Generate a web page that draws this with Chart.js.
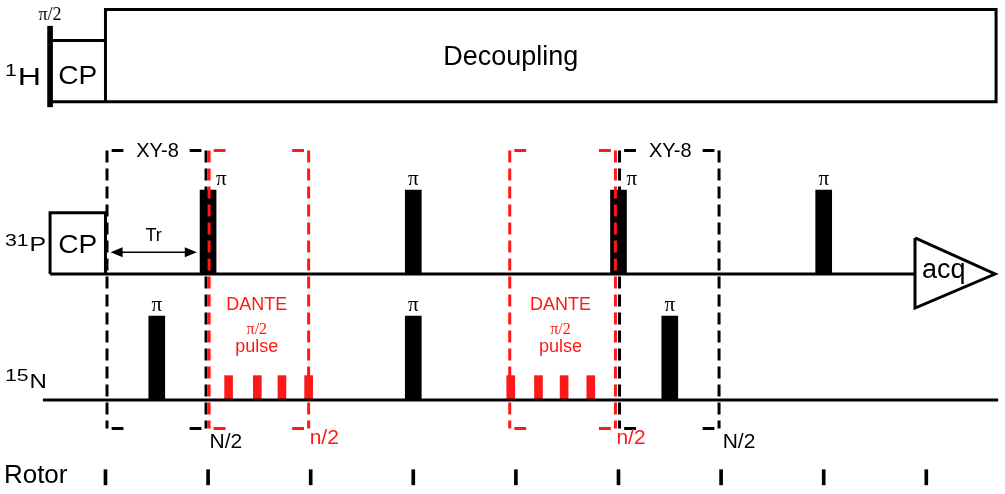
<!DOCTYPE html>
<html>
<head>
<meta charset="utf-8">
<title>Pulse sequence</title>
<script src="https://cdn.jsdelivr.net/npm/chart.js@4.4.1/dist/chart.umd.min.js"></script>
<style>
    html, body { margin: 0; padding: 0; background: #fff; }
    #wrap { width: 1005px; height: 494px; }
</style>
</head>
<body>
<div id="wrap"><canvas id="myChart" width="1005" height="494"></canvas></div>
<script>
// time axis is in rotor periods, vertical axis in pulse amplitude units
var rotorTicks = [0, 1, 2, 3, 4, 5, 6, 7, 8];
var channels = ['1H', '31P', '15N'];
var channelLevels = [3.55, 1.5, 0];
var pPiPulses = [1, 3, 5, 7];
var nPiPulses = [0.5, 3, 5.5];
var danteTrain1 = [1.2, 1.48, 1.72, 1.98];
var danteTrain2 = [3.95, 4.22, 4.47, 4.73];
var xy8Blocks = [[0.015, 0.98], [5.01, 5.98]];
var danteBlocks = [[1.01, 1.98], [3.94, 4.97]];
var trSpan = [0.05, 0.89];

var piAmp = 1;
var danteAmp = 0.29;
var cpAmp = 0.73;
var decouplingAmp = 1.1;
var hPulseAmp = 0.9;
var cpStart = -0.54;
var seqEnd = 8.68;
var acqSpan = [7.89, 8.67];
var blockTop = 2.97, blockBottom = -0.34;
var rotorTickRange = [-1.01, -0.83];

var RED = 'rgb(255,24,24)';
var SANS = '"Liberation Sans", Arial, sans-serif';
var SERIF = '"Liberation Serif", "Times New Roman", serif';

var H = channelLevels[0], P = channelLevels[1], N = channelLevels[2];

function gap(list) {
    // join several polylines into one dataset, broken by null points
    var out = [];
    list.forEach(function (pts, i) {
        if (i > 0) out.push({ x: pts[0].x, y: null });
        out = out.concat(pts);
    });
    return out;
}

function pulseBars(times, base, amp) {
    return times.map(function (t) { return { x: t, y: [base, base + amp] }; });
}

function lineSet(data, color, width, dash, order) {
    return {
        type: 'line', data: data, borderColor: color, borderWidth: width,
        borderDash: dash || [], pointRadius: 0, tension: 0, fill: false,
        spanGaps: false, borderCapStyle: 'butt', borderJoinStyle: 'miter', order: order
    };
}

function barSet(data, color, thickness) {
    return {
        type: 'bar', data: data, backgroundColor: color, borderWidth: 0,
        barThickness: thickness, grouped: false, order: 5
    };
}

function blockLines(blocks) {
    var verticals = [], ticks = [];
    blocks.forEach(function (b) {
        verticals.push([{ x: b[0], y: blockTop }, { x: b[0], y: blockBottom }]);
        verticals.push([{ x: b[1], y: blockTop }, { x: b[1], y: blockBottom }]);
        [blockTop, blockBottom].forEach(function (v) {
            ticks.push([{ x: b[0] + 0.045, y: v }, { x: b[0] + 0.16, y: v }]);
            ticks.push([{ x: b[1] - 0.16, y: v }, { x: b[1] - 0.045, y: v }]);
        });
    });
    return { verticals: gap(verticals), ticks: gap(ticks) };
}

var xyLines = blockLines(xy8Blocks);
var danteLines = blockLines(danteBlocks);

// text annotations, anchored in data units
var labels = [
    { text: 'π/2', x: cpStart, y: 4.58, font: '18px ' + SERIF },
    { text: 'Decoupling', x: 3.95, y: 4.08, font: '27px ' + SANS },
    { text: 'CP', x: cpStart / 2, y: H + 0.3, font: '26px ' + SANS, sx: 1.08 },
    { text: 'CP', x: cpStart / 2, y: P + 0.33, font: '26px ' + SANS, sx: 1.08 },
    { text: 'Tr', x: 0.47, y: 1.95, font: '18px ' + SANS },
    { text: 'acq', x: 8.17, y: 1.45, font: '27px ' + SANS, base: 'alphabetic' },
    { text: 'Rotor', x: -0.99, y: -0.99, font: '26px ' + SANS, align: 'left', base: 'alphabetic' }
];
xy8Blocks.forEach(function (b) {
    labels.push({ text: 'XY-8', x: (b[0] + b[1]) / 2 + 0.01, y: 2.96, font: '20px ' + SANS });
    labels.push({ text: 'N/2', x: b[1] + 0.035, y: -0.5, font: '21px ' + SANS, align: 'left' });
});
danteBlocks.forEach(function (b) {
    var mid = (b[0] + b[1]) / 2 - 0.02;
    labels.push({ text: 'DANTE', x: mid, y: 1.13, font: '18px ' + SANS, color: RED });
    labels.push({ text: 'π/2', x: mid, y: 0.83, font: '16px ' + SERIF, color: RED });
    labels.push({ text: 'pulse', x: mid, y: 0.57, font: '18px ' + SANS, color: RED, base: 'alphabetic' });
    labels.push({ text: 'n/2', x: b[1] + 0.01, y: -0.45, font: '21px ' + SANS, color: RED, align: 'left' });
});
pPiPulses.forEach(function (t) {
    var onEdge = danteBlocks.concat(xy8Blocks).some(function (b) {
        return Math.abs(b[0] - t) < 0.05 || Math.abs(b[1] - t) < 0.05;
    });
    labels.push({ text: 'π', x: t + (onEdge ? 0.13 : 0), y: P + piAmp + 0.12, font: '21px ' + SERIF });
});
nPiPulses.forEach(function (t) {
    labels.push({ text: 'π', x: t, y: N + piAmp + 0.13, font: '21px ' + SERIF });
});

function drawText(ctx, text, px, py, sx) {
    ctx.save();
    ctx.translate(px, py);
    ctx.scale(sx || 1, 1);
    ctx.fillText(text, 0, 0);
    ctx.restore();
}

var seqPlugin = {
    id: 'seqLabels',
    afterDatasetsDraw: function (chart) {
        var ctx = chart.ctx, xs = chart.scales.x, ys = chart.scales.y;
        ctx.save();
        labels.forEach(function (l) {
            ctx.font = l.font;
            ctx.fillStyle = l.color || '#000';
            ctx.textAlign = l.align || 'center';
            ctx.textBaseline = l.base || 'middle';
            drawText(ctx, l.text, xs.getPixelForValue(l.x), ys.getPixelForValue(l.y), l.sx);
        });

        // channel names with isotope mass as superscript
        var supTop = [0.47, 0.49, 0.38];
        var mainBase = [0.2, 0.27, 0.14];
        var mainSize = [23, 21, 20];
        var mainStretch = [1.4, 1.18, 1.2];
        channels.forEach(function (name, i) {
            var mass = name.replace(/[A-Z]/g, '');
            var el = name.replace(/[0-9]/g, '');
            var x0 = xs.getPixelForValue(-0.98);
            ctx.textAlign = 'left';
            ctx.textBaseline = 'top';
            ctx.font = '17px ' + SANS;
            ctx.fillStyle = '#000';
            drawText(ctx, mass, x0, ys.getPixelForValue(channelLevels[i] + supTop[i]), 1.25);
            var w = ctx.measureText(mass).width * 1.25;
            ctx.textBaseline = 'alphabetic';
            ctx.font = mainSize[i] + 'px ' + SANS;
            drawText(ctx, el, x0 + w + 1, ys.getPixelForValue(channelLevels[i] + mainBase[i]), mainStretch[i]);
        });

        // arrow heads of the Tr interval
        var yA = ys.getPixelForValue(1.76);
        var xL = xs.getPixelForValue(trSpan[0]), xR = xs.getPixelForValue(trSpan[1]);
        ctx.beginPath();
        ctx.moveTo(xL, yA); ctx.lineTo(xL + 12, yA - 5); ctx.lineTo(xL + 12, yA + 5); ctx.closePath();
        ctx.moveTo(xR, yA); ctx.lineTo(xR - 12, yA - 5); ctx.lineTo(xR - 12, yA + 5); ctx.closePath();
        ctx.fill();
        ctx.restore();
    }
};

var datasets = [
    // dashed block frames on top of everything
    lineSet(danteLines.verticals, RED, 3, [12, 6], 0),
    lineSet(danteLines.ticks, RED, 3, [], 0),
    lineSet(xyLines.verticals, '#000', 3, [12, 6], 1),
    lineSet(xyLines.ticks, '#000', 3, [], 1),

    // 1H: CP box and decoupling box
    lineSet(gap([
        [{ x: cpStart, y: H }, { x: seqEnd, y: H }, { x: seqEnd, y: H + decouplingAmp },
         { x: 0, y: H + decouplingAmp }, { x: 0, y: H }],
        [{ x: cpStart, y: H + cpAmp }, { x: 0, y: H + cpAmp }]
    ]), '#000', 3, [], 3),
    // 31P: CP box, baseline and acquisition
    lineSet(gap([
        [{ x: cpStart, y: P }, { x: cpStart, y: P + cpAmp }, { x: 0, y: P + cpAmp }, { x: 0, y: P }],
        [{ x: cpStart, y: P }, { x: acqSpan[0], y: P }],
        [{ x: acqSpan[0], y: P + 0.43 }, { x: acqSpan[1], y: P }, { x: acqSpan[0], y: P - 0.405 },
         { x: acqSpan[0], y: P + 0.43 }]
    ]), '#000', 3, [], 3),
    // 15N baseline
    lineSet([{ x: -0.61, y: N }, { x: 8.7, y: N }], '#000', 3, [], 3),
    // Tr interval
    lineSet([{ x: trSpan[0] + 0.05, y: 1.76 }, { x: trSpan[1] - 0.05, y: 1.76 }], '#000', 1.5, [], 3),

    // pulses
    barSet([{ x: cpStart, y: [H - 0.06, H + hPulseAmp] }], '#000', 5),
    barSet(pulseBars(pPiPulses, P, piAmp), '#000', 16),
    barSet(pulseBars(nPiPulses, N, piAmp), '#000', 16),
    barSet(pulseBars(danteTrain1.concat(danteTrain2), N, danteAmp), RED, 8),
    barSet(rotorTicks.map(function (t) { return { x: t, y: rotorTickRange }; }), '#000', 3)
];

var ctx = document.getElementById('myChart').getContext('2d');
var myChart = new Chart(ctx, {
    type: 'bar',
    data: { datasets: datasets },
    options: {
        responsive: false,
        maintainAspectRatio: false,
        devicePixelRatio: 1,
        animation: false,
        events: [],
        layout: { padding: 0 },
        plugins: { legend: { display: false }, tooltip: { enabled: false } },
        scales: {
            x: { type: 'linear', min: -1.028, max: 8.767, display: false, offset: false },
            y: { type: 'linear', min: -1.119, max: 4.762, display: false }
        }
    },
    plugins: [seqPlugin]
});
</script>
</body>
</html>
